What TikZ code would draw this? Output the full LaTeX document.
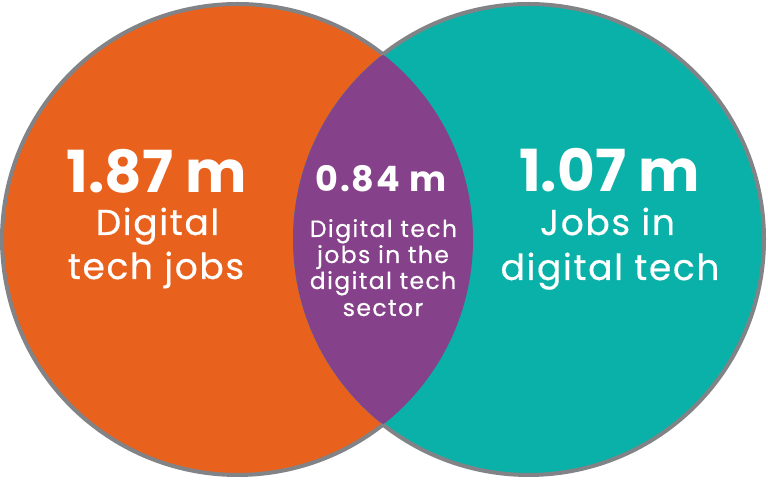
\documentclass[tikz,border=0pt]{standalone}
\usepackage{fontspec}
\setmainfont{Poppins}
\newfontfamily\labfont[LetterSpace=4.5,FakeBold=0.5]{Poppins}
\newfontfamily\midfont[LetterSpace=6,FakeBold=0.5]{Poppins}
\newfontfamily\numfont[LetterSpace=5]{Poppins}
\definecolor{vorange}{HTML}{E8611D}
\definecolor{vteal}{HTML}{0AB1A8}
\definecolor{vpurple}{HTML}{85418A}
\definecolor{vgray}{HTML}{818386}
\tikzset{
  bignum/.style={text=white,anchor=base,inner sep=0pt,font=\fontsize{58}{60}\selectfont\bfseries},
  midnum/.style={text=white,anchor=base,inner sep=0pt,font=\numfont\fontsize{35}{37}\selectfont\bfseries},
  biglab/.style={text=white,anchor=base,inner sep=0pt,font=\labfont\fontsize{36}{38}\selectfont},
  midlab/.style={text=white,anchor=base,inner sep=0pt,font=\midfont\fontsize{23.5}{25}\selectfont},
  rim/.style={draw=vgray,line width=4pt}
}
\begin{document}
\begin{tikzpicture}[x=1pt,y=1pt]
\useasboundingbox (0,0) rectangle (768,479);
\coordinate (cl) at (237.5,239.5);
\coordinate (cr) at (528.5,239.5);
\fill[vorange] (cl) circle[radius=235.5pt];
\fill[vteal] (cr) circle[radius=235.5pt];
\begin{scope}
  \clip (cl) circle[radius=235.5pt];
  \fill[vpurple] (cr) circle[radius=235.5pt];
\end{scope}
\draw[rim] (cl) ++(51.84:235.5pt) arc[start angle=51.84,end angle=308.16,radius=235.5pt];
\draw[rim] (cr) ++(128.16:235.5pt) arc[start angle=128.16,end angle=-128.16,radius=235.5pt];
% left
\node[bignum] (n1) at (156.5,286) {1.87 m};
\node[biglab] (l1a) at (157.5,244) {Digital};
\node[biglab] (l1b) at (156,200) {tech jobs};
% right
\node[bignum] (n3) at (609.5,287) {1.07 m};
\node[biglab] (l3a) at (607.5,244) {Jobs in};
\node[biglab] (l3b) at (610,199) {digital tech};
% middle
\node[midnum] (n2) at (381,287) {0.84 m};
\node[midlab] (l2a) at (383.5,242) {Digital tech};
\node[midlab] (l2b) at (383,216) {jobs in the};
\node[midlab] (l2c) at (383,190) {digital tech};
\node[midlab] (l2d) at (383,163) {sector};
\end{tikzpicture}
\end{document}
